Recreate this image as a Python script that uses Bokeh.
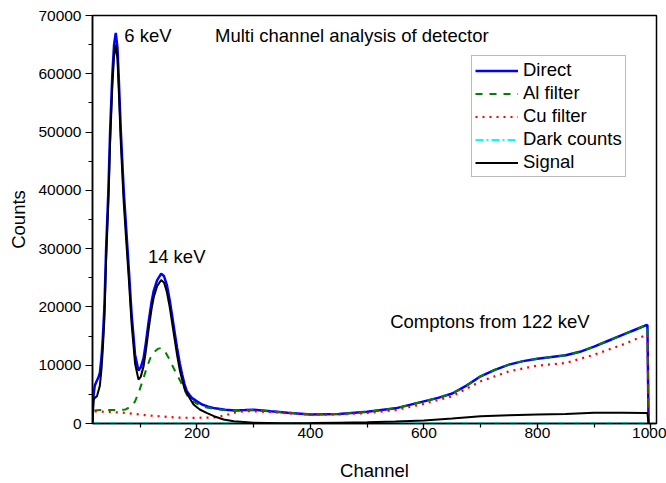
from bokeh.plotting import figure
from bokeh.models import (Range1d, SingleIntervalTicker, Legend, LegendItem, Label)
from bokeh.embed import file_html
from bokeh.resources import INLINE

# ---- data ----
direct_ch = [16, 17, 18, 20, 23, 26, 29, 32, 34, 37, 40, 44, 47, 51, 54, 57, 60, 62, 66, 71,
             75, 80, 85, 91, 97, 101, 106, 110, 115, 120, 124, 130, 137, 142, 147, 152, 156,
             161, 165, 170, 174, 178, 182, 187, 191, 200, 209, 220, 232, 250, 268, 285, 300,
             315, 330, 360, 400, 450, 500, 550, 600, 625, 650, 675, 700, 725, 750, 775, 800,
             825, 850, 875, 900, 925, 950, 970, 990, 994, 996]
direct_counts = [0, 3500, 5000, 6500, 7200, 7800, 8700, 11500, 14400, 20000, 30000, 40000,
                 50000, 60000, 65000, 67000, 64500, 60000, 50000, 40000, 34000, 26500, 18650,
                 11800, 9100, 9600, 11200, 13800, 17500, 20800, 22800, 24600, 25700, 25300,
                 23800, 21200, 18700, 15500, 13000, 10200, 8400, 6800, 5600, 4900, 4400, 3800,
                 3250, 2900, 2600, 2350, 2250, 2300, 2350, 2250, 2100, 1850, 1550, 1650, 2000,
                 2600, 3800, 4400, 5150, 6500, 8100, 9200, 10100, 10700, 11100, 11400, 11700,
                 12300, 13200, 14200, 15200, 16000, 16800, 16900, 0]

al_ch = [16, 17, 30, 50, 65, 74, 85, 91, 98, 106, 112, 118, 125, 131, 137, 143, 150, 156,
         163, 171, 178, 185, 194, 203, 215, 232, 262, 285, 300, 315, 330, 360, 400, 450, 500,
         550, 600, 625, 650, 675, 700, 725, 750, 775, 800, 825, 850, 875, 900, 925, 950, 970,
         990, 994, 996]
al_counts = [0, 2200, 2300, 2300, 2350, 2400, 3000, 3800, 5500, 7800, 9700, 11240, 12300,
             12800, 12950, 12500, 11300, 10100, 8700, 7240, 5800, 4400, 3700, 3250, 2800, 2450,
             2150, 2250, 2300, 2250, 2100, 1850, 1550, 1650, 2000, 2600, 3800, 4400, 5150, 6500,
             8100, 9200, 10100, 10700, 11100, 11400, 11700, 12300, 13200, 14200, 15200, 16000,
             16800, 16900, 0]

cu_ch = [16, 17, 40, 74, 109, 140, 168, 200, 230, 250, 268, 285, 300, 330, 360, 400, 450,
         500, 550, 600, 650, 700, 750, 800, 850, 900, 950, 990, 994, 996]
cu_counts = [0, 2100, 2000, 1830, 1430, 1200, 1000, 970, 1050, 1400, 1900, 2100, 2100, 1950,
             1750, 1500, 1550, 1800, 2300, 3370, 4680, 7240, 8950, 9930, 10380, 11800, 13520,
             15120, 15200, 0]

dark_ch = [16, 300, 600, 996]
dark_counts = [30, 30, 30, 30]

signal_ch = [16, 17, 18, 20, 24, 29, 32, 34, 37, 40, 44, 47, 51, 54, 57, 60, 62, 66, 71, 75,
             80, 85, 91, 97, 101, 106, 110, 115, 120, 124, 130, 137, 142, 147, 152, 156, 161,
             165, 170, 174, 178, 185, 194, 205, 217, 230, 247, 265, 300, 350, 400, 450, 500,
             550, 600, 650, 700, 750, 800, 850, 900, 950, 990, 994, 996]
signal_counts = [0, 2500, 4000, 4400, 4700, 6500, 9500, 12500, 18000, 28000, 38000, 48000,
                 58000, 63000, 65000, 62500, 58000, 48000, 38000, 32000, 24800, 17000, 10300,
                 7550, 8000, 9800, 12400, 16200, 19600, 21700, 23600, 24600, 24200, 22600,
                 20000, 17500, 14300, 11800, 9100, 7500, 6000, 4700, 3250, 2400, 1830, 1250,
                 680, 400, 150, 50, 80, 150, 220, 350, 510, 850, 1250, 1400, 1540, 1650, 1830,
                 1850, 1800, 1800, 0]

x_ticks_interval = 200
y_ticks_interval = 10000

FONT = "Liberation Sans"

p = figure(width=666, height=483, output_backend="svg", toolbar_location=None,
           x_range=Range1d(16, 1010), y_range=Range1d(0, 70000),
           min_border_left=92, min_border_right=10, min_border_top=15, min_border_bottom=59)
p.grid.visible = False
p.outline_line_color = "black"
p.outline_line_width = 1.5
p.background_fill_color = "white"

for ax in (p.xaxis[0], p.yaxis[0]):
    ax.axis_line_width = 1.5
    ax.axis_line_color = "black"
    ax.major_tick_in = 0
    ax.minor_tick_in = 0
    ax.major_tick_line_width = 1.2
    ax.minor_tick_line_width = 1.2
    ax.major_label_text_font = FONT
    ax.major_label_text_font_size = "15.5px"
    ax.major_label_text_color = "black"
    ax.axis_label_text_font = FONT
    ax.axis_label_text_font_size = "18.5px"
    ax.axis_label_text_font_style = "normal"
    ax.axis_label_text_color = "black"

p.xaxis.ticker = SingleIntervalTicker(interval=x_ticks_interval, num_minor_ticks=2)
p.yaxis.ticker = SingleIntervalTicker(interval=y_ticks_interval, num_minor_ticks=2)
p.xaxis.major_tick_out = 6
p.xaxis.minor_tick_out = 4
p.yaxis.major_tick_out = 7
p.yaxis.minor_tick_out = 4
p.xaxis.major_label_standoff = -2
p.yaxis.major_label_standoff = 4
p.xaxis.axis_label = "Channel"
p.yaxis.axis_label = "Counts"
p.xaxis.axis_label_standoff = 19
p.yaxis.axis_label_standoff = 6

r_direct = p.line(direct_ch, direct_counts, line_color="#0000ff", line_width=2.5)
r_al = p.line(al_ch, al_counts, line_color="#008000", line_width=2, line_dash="7 7")
r_cu = p.line(cu_ch, cu_counts, line_color="#ff0000", line_width=2.2, line_dash="2 5")
r_dark = p.line(dark_ch, dark_counts, line_color="#00ffff", line_width=2, line_dash="8 3 2 3")
r_sig = p.line(signal_ch, signal_counts, line_color="black", line_width=2)

legend = Legend(items=[
    LegendItem(label="Direct", renderers=[r_direct]),
    LegendItem(label="Al filter", renderers=[r_al]),
    LegendItem(label="Cu filter", renderers=[r_cu]),
    LegendItem(label="Dark counts", renderers=[r_dark]),
    LegendItem(label="Signal", renderers=[r_sig]),
], location=(379, 246))
legend.label_text_font = FONT
legend.label_text_font_size = "18.5px"
legend.label_text_color = "black"
legend.glyph_width = 43
legend.glyph_height = 19
legend.label_height = 19
legend.label_standoff = 5
legend.spacing = 1
legend.padding = 3
legend.margin = 0
legend.border_line_color = "#777777"
legend.border_line_width = 1.5
legend.background_fill_color = "white"
legend.background_fill_alpha = 1
p.add_layout(legend, "center")

labels = [("6 keV", 72, 66575), ("Multi channel analysis of detector", 232, 66575),
          ("14 keV", 113.6, 28630), ("Comptons from 122 keV", 540.6, 17510)]
for t, x, y in labels:
    p.add_layout(Label(x=x, y=y, text=t, text_font=FONT, text_font_size="18.5px",
                       text_baseline="middle", text_align="left", text_color="black"))

open("out.html", "w").write(file_html(p, INLINE))
